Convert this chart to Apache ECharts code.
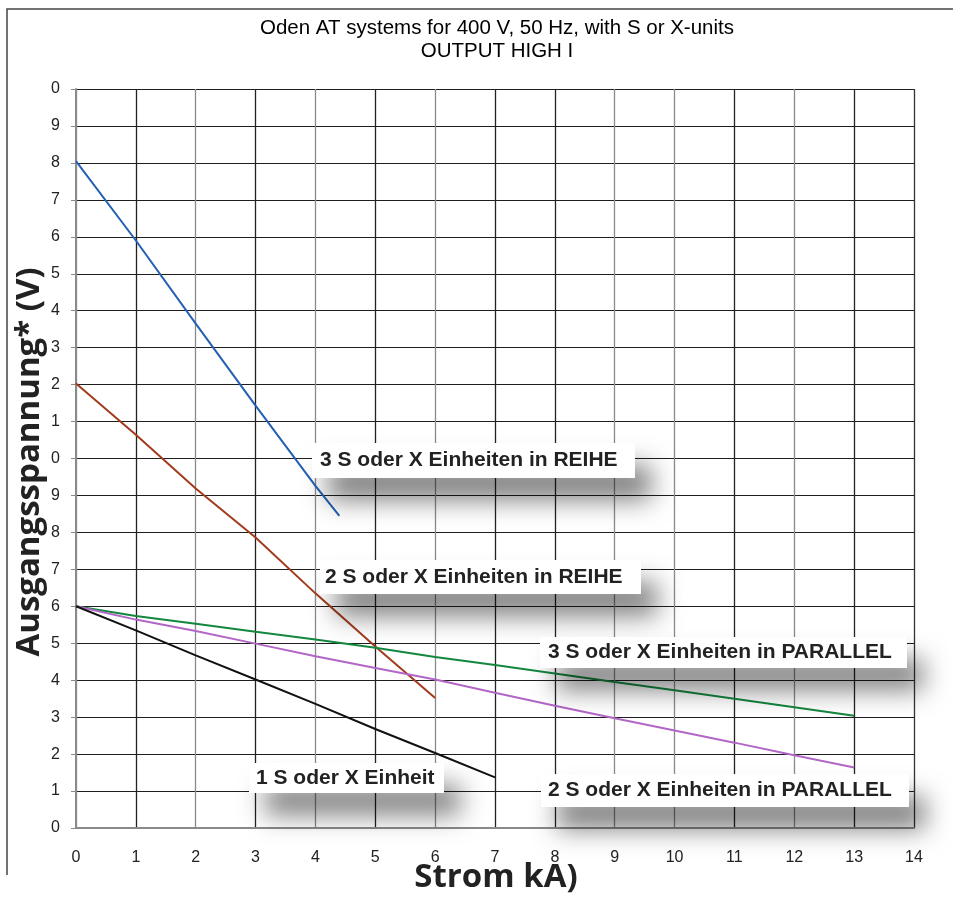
<!DOCTYPE html>
<html>
<head>
<meta charset="utf-8">
<script src="https://cdn.jsdelivr.net/npm/echarts@6/dist/echarts.min.js"></script>
<style>
  html, body { margin: 0; padding: 0; background: #fff; }
  #chart { width: 953px; height: 902px; }
</style>
</head>
<body>
<div id="chart"></div>
<script>
// Output voltage (V) versus current (kA) for the Oden AT system configurations
const xTicks = [0, 1, 2, 3, 4, 5, 6, 7, 8, 9, 10, 11, 12, 13, 14];
const yTickLabels = ['0','1','2','3','4','5','6','7','8','9','0','1','2','3','4','5','6','7','8','9','0'];

const reihe3X = [0, 1, 2, 3, 4, 4.4];
const reihe3V = [18.05, 15.9, 13.65, 11.43, 9.26, 8.45];

const reihe2X = [0, 1, 2, 3, 4, 5, 6];
const reihe2V = [12.03, 10.64, 9.19, 7.86, 6.35, 4.91, 3.52];

const einheit1X = [0, 1, 2, 3, 4, 5, 6, 7];
const einheit1V = [6, 5.35, 4.67, 4.02, 3.36, 2.68, 2.03, 1.37];

const parallel3X = [0, 1, 2, 3, 4, 5, 6, 7, 8, 9, 10, 11, 12, 13];
const parallel3V = [6, 5.74, 5.53, 5.31, 5.10, 4.88, 4.63, 4.41, 4.18, 3.95, 3.73, 3.50, 3.27, 3.04];

const parallel2X = [0, 1, 2, 3, 4, 5, 6, 7, 8, 9, 10, 11, 12, 13];
const parallel2V = [6, 5.64, 5.33, 4.99, 4.65, 4.33, 4.02, 3.66, 3.31, 2.97, 2.64, 2.31, 1.97, 1.64];

const seriesNames = [
  '3 S oder X Einheiten in REIHE',
  '2 S oder X Einheiten in REIHE',
  '3 S oder X Einheiten in PARALLEL',
  '2 S oder X Einheiten in PARALLEL',
  '1 S oder X Einheit'
];

const titleLines = ['Oden AT systems for 400 V, 50 Hz, with S or X-units', 'OUTPUT HIGH I'];
const xTitle = 'Strom kA)';
const yTitle = 'Ausgangsspannung* (V)';

function pairs(xs, vs) { return xs.map((x, i) => [x, vs[i]]); }

const chart = echarts.init(document.getElementById('chart'), null, { renderer: 'canvas' });

const tickFont = "'Liberation Sans', Arial, sans-serif";
const labelFont = "'Liberation Sans', Arial, sans-serif";
const axisTitleFont = "bold 33px 'Open Sans', sans-serif";

function lineSeries(name, data, color) {
  return {
    name: name, type: 'line', data: data, symbol: 'none', smooth: false,
    lineStyle: { color: color, width: 2 }, z: 3
  };
}

// boxed annotation with a soft drop shadow
function boxLabel(text, left, top, w, h, pad) {
  return {
    type: 'group', left: left, top: top, z: 100,
    children: [
      { type: 'rect', shape: { x: 0, y: 0, width: w, height: h }, z: 100,
        style: { fill: '#fff', shadowBlur: 26, shadowColor: 'rgba(0,0,0,0.5)', shadowOffsetX: 16, shadowOffsetY: 22 } },
      { type: 'text', x: pad, y: h / 2, z: 101,
        style: { text: text, fill: '#222', font: "bold 21px " + labelFont, textVerticalAlign: 'middle', textBaseline: 'middle' } }
    ]
  };
}

const vColors = ['#8a8a8a','#222','#8a8a8a','#222','#8a8a8a','#222','#8a8a8a','#222','#222','#8a8a8a','#8a8a8a','#222','#8a8a8a','#222','#333'];

chart.setOption({
  animation: false,
  backgroundColor: '#fff',
  grid: { left: 76, right: 39, top: 89, bottom: 74, containLabel: false },
  xAxis: {
    type: 'value', min: 0, max: 14, interval: 1,
    axisLine: { show: true, onZero: false, lineStyle: { color: '#8a8a8a', width: 2 } },
    axisTick: { show: false },
    axisLabel: { margin: 22, color: '#222', fontSize: 16, fontFamily: tickFont,
      formatter: (v, i) => String(xTicks[i] !== undefined ? xTicks[i] : v) },
    splitLine: { show: true, lineStyle: { color: vColors, width: 1.3 } }
  },
  yAxis: {
    type: 'value', min: 0, max: 20, interval: 1,
    axisLine: { show: true, onZero: false, lineStyle: { color: '#8a8a8a', width: 2 } },
    axisTick: { show: true, length: 5, lineStyle: { color: '#8a8a8a' } },
    axisLabel: { margin: 16, color: '#222', fontSize: 16, fontFamily: tickFont,
      formatter: (v, i) => yTickLabels[Math.round(v)] },
    splitLine: { show: true, lineStyle: { color: '#1e1e1e', width: 1.2 } }
  },
  series: [
    lineSeries(seriesNames[0], pairs(reihe3X, reihe3V), '#2260b4'),
    lineSeries(seriesNames[1], pairs(reihe2X, reihe2V), '#a33a1c'),
    lineSeries(seriesNames[2], pairs(parallel3X, parallel3V), '#14873f'),
    lineSeries(seriesNames[3], pairs(parallel2X, parallel2V), '#b266c6'),
    lineSeries(seriesNames[4], pairs(einheit1X, einheit1V), '#111')
  ],
  graphic: [
    // outer frame (left and top edges)
    { type: 'polyline', z: 50, shape: { points: [[7, 875], [7, 9], [953, 9]] },
      style: { stroke: '#444', lineWidth: 1.5, fill: null } },
    { type: 'text', x: 497, y: 28, z: 50,
      style: { text: titleLines[0], fill: '#000', font: "20.5px " + tickFont, textAlign: 'center', textVerticalAlign: 'middle' } },
    { type: 'text', x: 497, y: 51, z: 50,
      style: { text: titleLines[1], fill: '#000', font: "20.5px " + tickFont, textAlign: 'center', textVerticalAlign: 'middle' } },
    { type: 'text', x: 496, y: 878, z: 50,
      style: { text: xTitle, fill: '#222', font: axisTitleFont, textAlign: 'center', textVerticalAlign: 'middle' } },
    { type: 'text', x: 30, y: 462, rotation: Math.PI / 2, z: 50,
      style: { text: yTitle, fill: '#222', font: axisTitleFont, textAlign: 'center', textVerticalAlign: 'middle' } },
    boxLabel(seriesNames[0], 312, 443, 323, 35, 8),
    boxLabel(seriesNames[1], 320, 560, 321, 34, 5),
    boxLabel(seriesNames[2], 540, 637, 367, 31, 8),
    boxLabel(seriesNames[3], 541, 774, 368, 33, 7),
    boxLabel(seriesNames[4], 249, 763, 195, 30, 7)
  ]
});
</script>
</body>
</html>
